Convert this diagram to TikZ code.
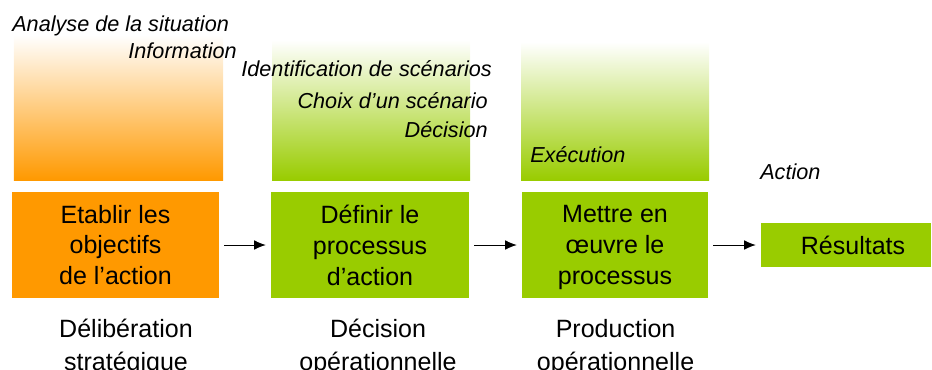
\documentclass[tikz,border=0pt]{standalone}
\usepackage{fontspec}
\setmainfont{Liberation Sans}
\usetikzlibrary{arrows.meta, positioning}
\definecolor{stratorange}{HTML}{FF9900}
\definecolor{opgreen}{HTML}{99CC00}
\newcommand{\boxfont}{\fontsize{17.8}{22}\selectfont}
\newcommand{\notefont}{\fontsize{15.4}{18.5}\selectfont\itshape}

\begin{document}
\begin{tikzpicture}[
    etape/.style={inner sep=0pt, minimum height=2.65cm, font=\boxfont, align=center},
    fade/.style={inner sep=0pt, top color=white},
    note/.style={inner sep=0pt, font=\notefont},
    phase/.style={inner sep=0pt, font=\boxfont, align=center, anchor=north},
    flow/.style={-{Latex[length=2.9mm, width=2.4mm]}, line width=0.7pt, shorten <=3.5pt, shorten >=3.5pt},
]
    \useasboundingbox (0,0) rectangle (23.3,9.225);

    % Fading backgrounds
    \node[fade, middle color=stratorange!38!white, bottom color=stratorange, minimum width=5.225cm, minimum height=3.625cm] (f1) at (2.9625, 6.5375) {};
    \node[fade, middle color=opgreen!38!white, bottom color=opgreen, minimum width=4.95cm, minimum height=3.5cm] (f2) at (9.275, 6.475) {};
    \node[fade, middle color=opgreen!38!white, bottom color=opgreen, minimum width=4.7cm, minimum height=3.45cm] (f3) at (15.375, 6.45) {};

    % Steps
    \node[etape, fill=stratorange, minimum width=5.175cm] (obj) at (2.8875, 3.1) {Etablir les\\objectifs\\de l’action};
    \node[etape, fill=opgreen, minimum width=4.95cm] (def) at (9.25, 3.1) {Définir le\\processus\\d’action};
    \node[etape, fill=opgreen, minimum width=4.65cm] (mise) at (15.375, 3.1) {Mettre en\\œuvre le\\\smash{processus}};
    \node[etape, fill=opgreen, minimum width=4.25cm, minimum height=1.1cm] (res) at (21.15, 3.1) {\hspace{0.35cm}Résultats};

    % Arrows
    \draw[flow] (obj) -- (def);
    \draw[flow] (def) -- (mise);
    \draw[flow] (mise) -- (res);

    % Activities
    \node[note, anchor=base west] (ana) at (0.3, 8.45) {Analyse de la situation};
    \node[note, anchor=base east] (info) at (5.925, 7.775) {Information};
    \node[note, anchor=base east] (ident) at (12.3, 7.325) {Identification de scénarios};
    \node[note, anchor=base east] (choix) at (12.2, 6.525) {Choix d’un scénario};
    \node[note, anchor=base east] (dec) at (12.2, 5.8) {Décision};
    \node[note, anchor=base west] (exe) at (13.25, 5.175) {Exécution};
    \node[note, anchor=base west] (act) at (19.0, 4.75) {Action};

    % Phases
    \node[phase] (delib) at (3.15, 1.25) {Délibération\\[1.5pt]stratégique};
    \node[phase] (decop) at (9.45, 1.25) {Décision\\[1.5pt]opérationnelle};
    \node[phase] (prod) at (15.39, 1.25) {Production\\[1.5pt]opérationnelle};
\end{tikzpicture}
\end{document}
